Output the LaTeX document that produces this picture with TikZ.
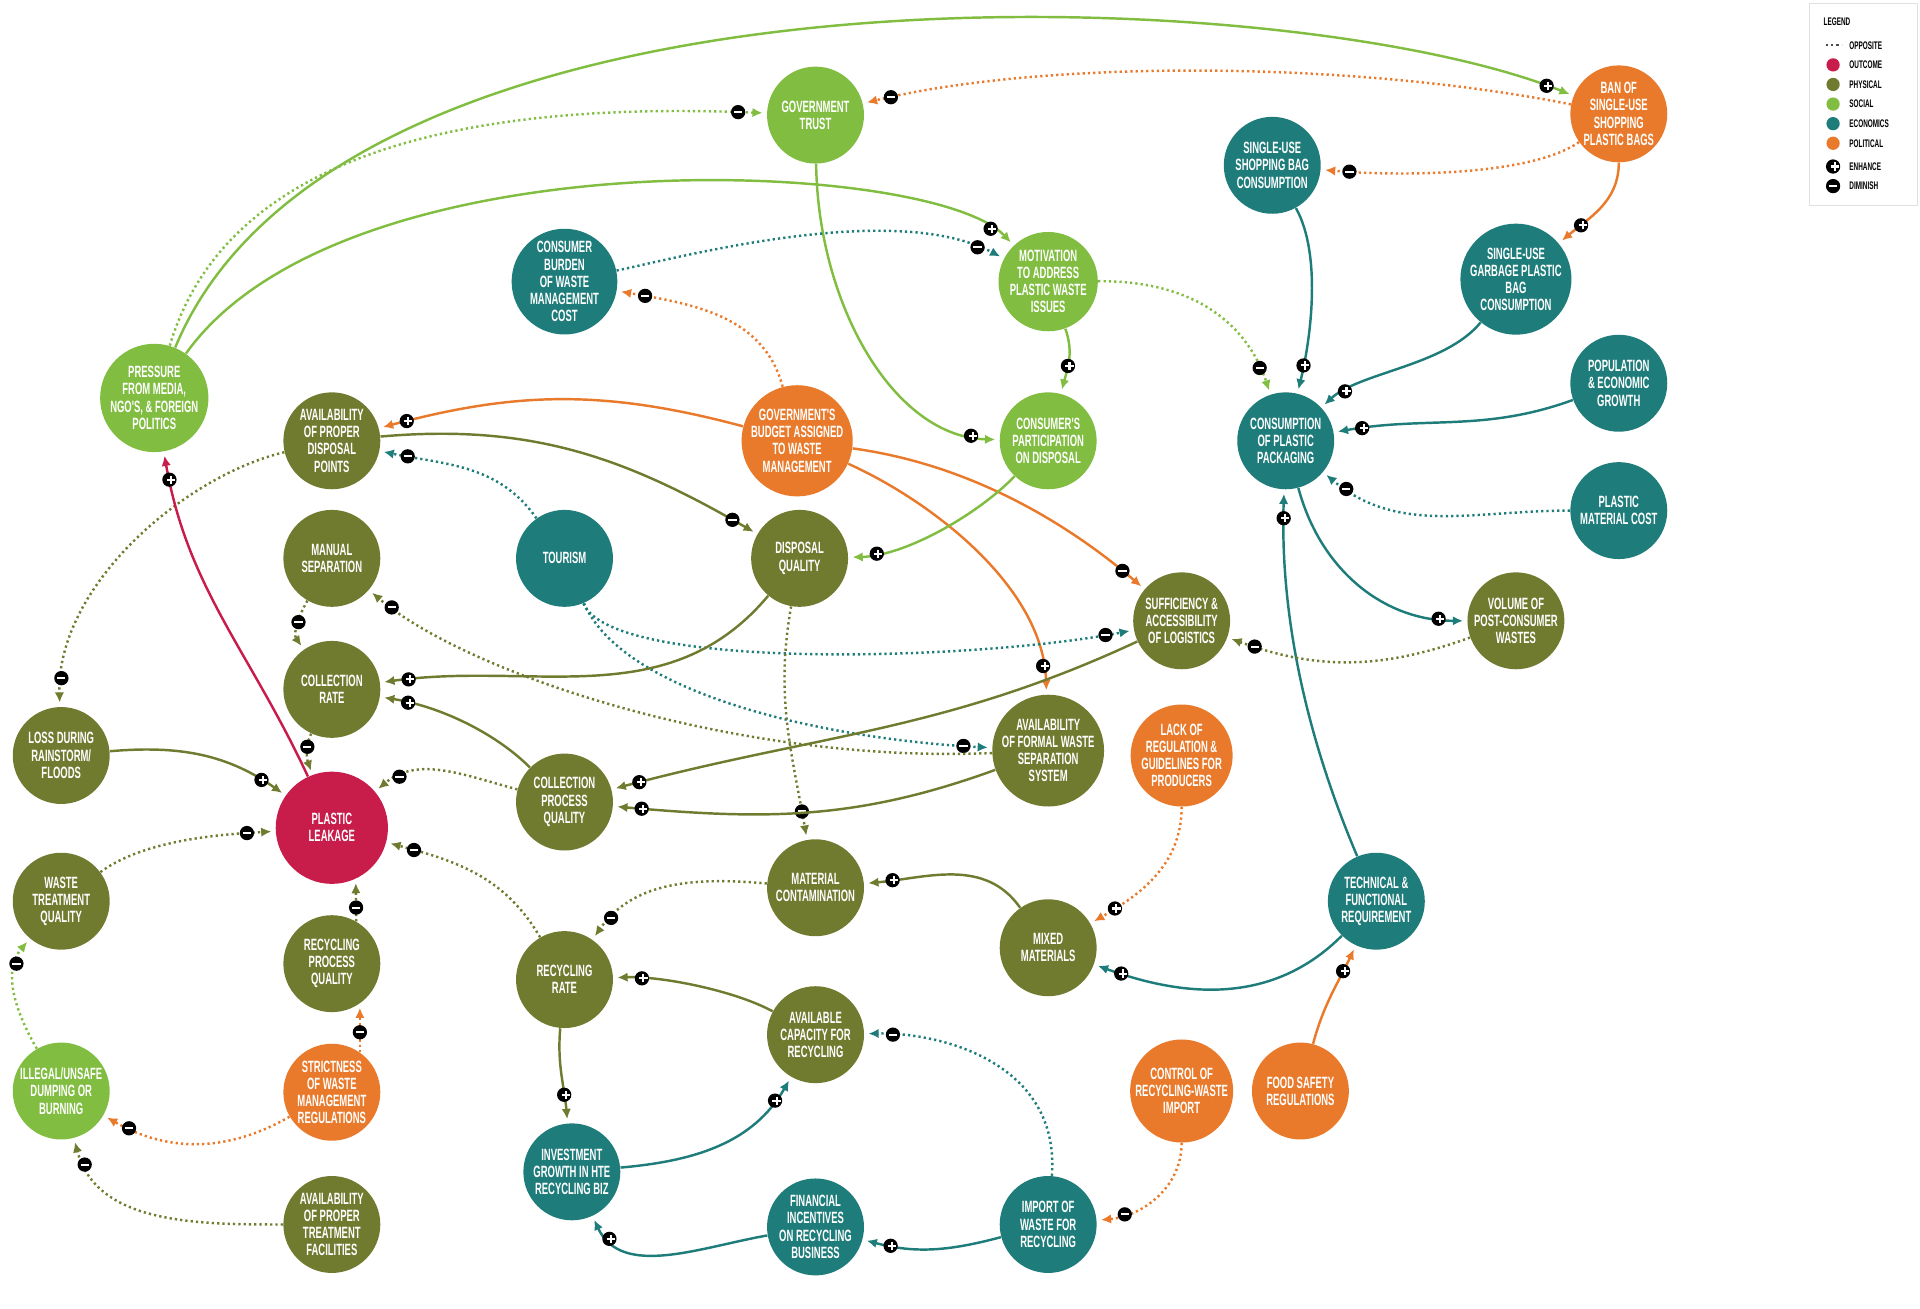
\documentclass[tikz,border=0pt]{standalone}
\usepackage{fontspec}
\newfontfamily\nodefont[FakeStretch=0.58]{Liberation Sans}
\usetikzlibrary{arrows.meta,decorations.markings}
\definecolor{physcol}{RGB}{113,123,48}
\definecolor{soccol}{RGB}{128,189,64}
\definecolor{ecocol}{RGB}{30,124,122}
\definecolor{polcol}{RGB}{233,122,43}
\definecolor{outcol}{RGB}{200,28,74}
\newcommand{\enhsym}{\rlap{\rule[-0.5pt]{4pt}{1pt}}\hspace{1.5pt}\rule[-2pt]{1pt}{4pt}\hspace{1.5pt}}
\newcommand{\dimsym}{\rule[-0.5pt]{4pt}{1pt}}
\tikzset{
  factor/.style={circle, minimum size=47.5pt, inner sep=0pt, align=center, text=white, font=\nodefont\bfseries\fontsize{8}{8.4}\selectfont},
  physical/.style={factor, fill=physcol},
  social/.style={factor, fill=soccol},
  economic/.style={factor, fill=ecocol},
  political/.style={factor, fill=polcol},
  outcome/.style={factor, fill=outcol, minimum size=55pt},
  link/.style={line width=1.2pt, -{Latex[length=5pt,width=4.6pt]}, shorten >=2pt},
  physlink/.style={link, draw=physcol},
  soclink/.style={link, draw=soccol},
  ecolink/.style={link, draw=ecocol},
  pollink/.style={link, draw=polcol},
  outlink/.style={link, draw=outcol},
  opposite/.style={dash pattern=on 1.1pt off 1.5pt},
  signmark/.style={circle, fill=black, text=white, inner sep=0pt, minimum size=7pt},
  enhance/.style={postaction={decorate, decoration={markings, mark=at position -14pt with {\node[signmark]{\enhsym};}}}},
  diminish/.style={postaction={decorate, decoration={markings, mark=at position -14pt with {\node[signmark]{\dimsym};}}}},
  legtext/.style={anchor=west, inner sep=0pt, font=\nodefont\bfseries\fontsize{5.4}{6}\selectfont},
  legdot/.style={circle, inner sep=0pt, minimum size=6.5pt}
}

\begin{document}
\begin{tikzpicture}[x=0.6pt, y=0.6pt]
  \useasboundingbox (0,0) rectangle (1568,1069);

  % factors, top to bottom
  \node[social] (govtrust) at (666,975) {GOVERNMENT\\TRUST};
  \node[political] (ban) at (1322,976) {BAN OF\\SINGLE-USE\\SHOPPING\\PLASTIC BAGS};
  \node[economic] (shopbag) at (1039,934) {SINGLE-USE\\SHOPPING BAG\\CONSUMPTION};
  \node[economic] (burden) at (461,839) {CONSUMER\\BURDEN\\OF WASTE\\MANAGEMENT\\COST};
  \node[social] (motivation) at (856,839) {MOTIVATION\\TO ADDRESS\\PLASTIC WASTE\\ISSUES};
  \node[economic] (garbage) at (1238,841) {SINGLE-USE\\GARBAGE PLASTIC\\BAG\\CONSUMPTION};
  \node[social] (pressure) at (126,744) {PRESSURE\\FROM MEDIA,\\NGO'S, \& FOREIGN\\POLITICS};
  \node[physical] (disposalpts) at (271,709) {AVAILABILITY\\OF PROPER\\DISPOSAL\\POINTS};
  \node[political] (budget) at (651,709) {GOVERNMENT'S\\BUDGET ASSIGNED\\TO WASTE\\MANAGEMENT};
  \node[social] (participation) at (856,709) {CONSUMER'S\\PARTICIPATION\\ON DISPOSAL};
  \node[economic] (consumption) at (1050,709) {CONSUMPTION\\OF PLASTIC\\PACKAGING};
  \node[economic] (population) at (1322,756) {POPULATION\\\& ECONOMIC\\GROWTH};
  \node[economic] (matcost) at (1322,652) {PLASTIC\\MATERIAL COST};
  \node[physical] (manualsep) at (271,613) {MANUAL\\SEPARATION};
  \node[economic] (tourism) at (461,613) {TOURISM};
  \node[physical] (dispquality) at (653,613) {DISPOSAL\\QUALITY};
  \node[physical] (logistics) at (965,562) {SUFFICIENCY \&\\ACCESSIBILITY\\OF LOGISTICS};
  \node[physical] (postconsumer) at (1238,562) {VOLUME OF\\POST-CONSUMER\\WASTES};
  \node[physical] (collrate) at (271,506) {COLLECTION\\RATE};
  \node[physical] (lossrain) at (50,452) {LOSS DURING\\RAINSTORM/\\FLOODS};
  \node[outcome] (leakage) at (271,393) {PLASTIC\\LEAKAGE};
  \node[physical] (collproc) at (461,414) {COLLECTION\\PROCESS\\QUALITY};
  \node[physical] (formalsep) at (856,456) {AVAILABILITY\\OF FORMAL WASTE\\SEPARATION\\SYSTEM};
  \node[political] (lackreg) at (965,452) {LACK OF\\REGULATION \&\\GUIDELINES FOR\\PRODUCERS};
  \node[physical] (wastetreat) at (50,333) {WASTE\\TREATMENT\\QUALITY};
  \node[physical] (matcont) at (666,344) {MATERIAL\\CONTAMINATION};
  \node[physical] (mixed) at (856,295) {MIXED\\MATERIALS};
  \node[economic] (techreq) at (1124,333) {TECHNICAL \&\\FUNCTIONAL\\REQUIREMENT};
  \node[physical] (recproc) at (271,282) {RECYCLING\\PROCESS\\QUALITY};
  \node[physical] (recrate) at (461,269) {RECYCLING\\RATE};
  \node[physical] (capacity) at (666,224) {AVAILABLE\\CAPACITY FOR\\RECYCLING};
  \node[social] (illegal) at (50,178) {ILLEGAL/UNSAFE\\DUMPING OR\\BURNING};
  \node[political] (strictness) at (271,177) {STRICTNESS\\OF WASTE\\MANAGEMENT\\REGULATIONS};
  \node[political] (control) at (965,178) {CONTROL OF\\RECYCLING-WASTE\\IMPORT};
  \node[political] (foodsafety) at (1062,178) {FOOD SAFETY\\REGULATIONS};
  \node[economic] (investment) at (467,112) {INVESTMENT\\GROWTH IN HTE\\RECYCLING BIZ};
  \node[economic] (financial) at (666,67) {FINANCIAL\\INCENTIVES\\ON RECYCLING\\BUSINESS};
  \node[economic] (importw) at (856,69) {IMPORT OF\\WASTE FOR\\RECYCLING};
  \node[physical] (treatfac) at (271,69) {AVAILABILITY\\OF PROPER\\TREATMENT\\FACILITIES};

  % links
  \draw[soclink, enhance] (pressure) .. controls (280,1115) and (1050,1085) .. (ban);
  \draw[soclink, opposite, diminish] (pressure) .. controls (190,960) and (420,985) .. (govtrust);
  \draw[soclink, enhance] (pressure) .. controls (280,960) and (760,940) .. (motivation);
  \draw[soclink, enhance] (govtrust) .. controls (668,820) and (730,712) .. (participation);
  \draw[pollink, opposite, diminish] (ban) .. controls (1100,1020) and (850,1020) .. (govtrust);
  \draw[pollink, opposite, diminish] (ban) .. controls (1250,925) and (1140,925) .. (shopbag);
  \draw[pollink, enhance] (ban) to[out=-90, in=40] (garbage);
  \draw[ecolink, opposite, diminish] (burden) .. controls (560,860) and (730,905) .. (motivation);
  \draw[soclink, enhance] (motivation) to[out=-70, in=75] (participation);
  \draw[soclink, opposite, diminish] (motivation) .. controls (980,840) and (1020,800) .. (consumption);
  \draw[ecolink, enhance] (shopbag) .. controls (1080,860) and (1070,790) .. (consumption);
  \draw[ecolink, enhance] (garbage) .. controls (1180,770) and (1110,765) .. (consumption);
  \draw[ecolink, enhance] (population) to[out=200, in=10] (consumption);
  \draw[ecolink, opposite, diminish] (matcost) to[out=180, in=-40] (consumption);
  \draw[ecolink, enhance] (consumption) to[out=-75, in=180] (postconsumer);
  \draw[ecolink, enhance] (techreq) .. controls (1070,460) and (1045,560) .. (consumption);
  \draw[pollink, opposite, diminish] (budget) to[out=105, in=-10] (burden);
  \draw[pollink, enhance] (budget) to[out=165, in=15] (disposalpts);
  \draw[pollink, diminish] (budget) .. controls (790,690) and (869,644) .. (logistics);
  \draw[pollink, enhance] (budget) .. controls (760,660) and (852,590) .. (formalsep);
  \draw[physlink, diminish] (disposalpts) to[out=5, in=150] (dispquality);
  \draw[physlink, opposite, diminish] (disposalpts) .. controls (150,680) and (46,590) .. (lossrain);
  \draw[ecolink, opposite, diminish] (tourism) to[out=125, in=-12] (disposalpts);
  \draw[ecolink, opposite, diminish] (tourism) .. controls (500,520) and (800,530) .. (logistics);
  \draw[ecolink, opposite, diminish] (tourism) .. controls (510,500) and (680,465) .. (formalsep);
  \draw[soclink, enhance] (participation) .. controls (800,650) and (740,615) .. (dispquality);
  \draw[physlink, enhance] (dispquality) to[out=-130, in=8] (collrate);
  \draw[physlink, opposite, diminish] (dispquality) to[out=-100, in=100] (matcont);
  \draw[physlink, opposite, diminish] (manualsep) to[out=-120, in=125] (collrate);
  \draw[physlink, opposite, diminish] (formalsep) .. controls (600,445) and (380,520) .. (manualsep);
  \draw[physlink, enhance] (formalsep) to[out=-160, in=-5] (collproc);
  \draw[physlink, enhance] (logistics) to[out=-155, in=15] (collproc);
  \draw[physlink, opposite, diminish] (collrate) to[out=-115, in=110] (leakage);
  \draw[physlink, enhance] (collproc) .. controls (405,470) and (360,492) .. (collrate);
  \draw[physlink, opposite, diminish] (collproc) to[out=165, in=40] (leakage);
  \draw[physlink, enhance] (lossrain) to[out=5, in=145] (leakage);
  \draw[outlink, enhance] (leakage) to[out=115, in=-80] (pressure);
  \draw[physlink, opposite, diminish] (postconsumer) to[out=-160, in=-20] (logistics);
  \draw[pollink, opposite, enhance] (lackreg) to[out=-90, in=30] (mixed);
  \draw[physlink, opposite, diminish] (wastetreat) .. controls (120,385) and (190,388) .. (leakage);
  \draw[physlink, opposite, diminish] (recproc.60) -- (leakage.-65);
  \draw[physlink, opposite, diminish] (recrate) to[out=120, in=-15] (leakage);
  \draw[physlink, enhance] (recrate) to[out=-95, in=95] (investment);
  \draw[physlink, opposite, diminish] (matcont) to[out=175, in=55] (recrate);
  \draw[physlink, enhance] (mixed) to[out=125, in=5] (matcont);
  \draw[ecolink, enhance] (techreq) to[out=-135, in=-20] (mixed);
  \draw[pollink, enhance] (foodsafety) to[out=75, in=-115] (techreq);
  \draw[physlink, enhance] (capacity) .. controls (600,260) and (540,272) .. (recrate);
  \draw[ecolink, enhance] (investment) to[out=5, in=-120] (capacity);
  \draw[ecolink, enhance] (financial) to[out=-170, in=-65] (investment);
  \draw[ecolink, enhance] (importw) to[out=-165, in=-15] (financial);
  \draw[ecolink, opposite, diminish] (importw) .. controls (866,200) and (770,226) .. (capacity);
  \draw[pollink, opposite, diminish] (control) to[out=-90, in=5] (importw);
  \draw[pollink, opposite, diminish] (strictness.55) -- (recproc.-55);
  \draw[pollink, opposite, diminish] (strictness) to[out=-150, in=-30] (illegal);
  \draw[soclink, opposite, diminish] (illegal) to[out=120, in=-130] (wastetreat);
  \draw[physlink, opposite, diminish] (treatfac) to[out=180, in=-75] (illegal);

  % legend
  \node[draw=black!12, fill=white, minimum width=52.8pt, minimum height=99pt, inner sep=0pt] (legend) at (1522,983.5) {};
  \node[legtext] (legtitle) at (1489,1051) {LEGEND};
  \coordinate (oppA) at (1491,1032);
  \coordinate (oppB) at (1504,1032);
  \draw[black!70, line width=0.9pt, opposite] (oppA) -- (oppB);
  \node[legtext] (legopp) at (1510,1032) {OPPOSITE};
  \node[legdot, fill=outcol] (legoutdot) at (1497,1016) {};
  \node[legtext] (legout) at (1510,1016) {OUTCOME};
  \node[legdot, fill=physcol] (legphysdot) at (1497,1000) {};
  \node[legtext] (legphys) at (1510,1000) {PHYSICAL};
  \node[legdot, fill=soccol] (legsocdot) at (1497,984) {};
  \node[legtext] (legsoc) at (1510,984) {SOCIAL};
  \node[legdot, fill=ecocol] (legecodot) at (1497,968) {};
  \node[legtext] (legeco) at (1510,968) {ECONOMICS};
  \node[legdot, fill=polcol] (legpoldot) at (1497,952) {};
  \node[legtext] (legpol) at (1510,952) {POLITICAL};
  \node[signmark] (legenhdot) at (1497,933) {\enhsym};
  \node[legtext] (legenh) at (1510,933) {ENHANCE};
  \node[signmark] (legdimdot) at (1497,917) {\dimsym};
  \node[legtext] (legdim) at (1510,917) {DIMINISH};
\end{tikzpicture}
\end{document}
